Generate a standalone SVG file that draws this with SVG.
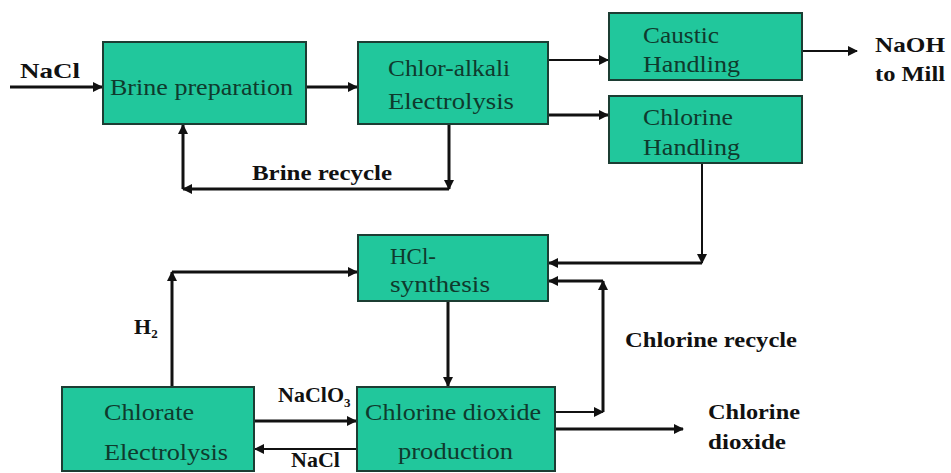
<svg xmlns="http://www.w3.org/2000/svg" width="951" height="473" viewBox="0 0 951 473">
<defs>
<marker id="ah" viewBox="0 0 10 10" refX="9" refY="5" markerWidth="10" markerHeight="10" markerUnits="userSpaceOnUse" orient="auto">
<path d="M0,0 L10,5 L0,10 z" fill="#111"/>
</marker>
<style>
.box{fill:#21c79c;stroke:#1c3d33;stroke-width:2}
.bt{font-family:'Liberation Serif','Times New Roman','DejaVu Serif',serif;font-size:23px;fill:#0f3a2d}
.lb{font-family:'Liberation Serif','Times New Roman','DejaVu Serif',serif;font-size:22px;font-weight:bold;fill:#111}
.c{fill:none;stroke:#111;stroke-width:3}
.t{fill:none;stroke:#111;stroke-width:2}
</style>
</defs>
<rect width="951" height="473" fill="#fff"/>
<g id="connectors">
<line class="c" x1="10" y1="87" x2="102" y2="87" marker-end="url(#ah)"/>
<line class="c" x1="306" y1="87" x2="357" y2="87" marker-end="url(#ah)"/>
<line class="t" x1="548" y1="60" x2="608" y2="60" marker-end="url(#ah)"/>
<line class="c" x1="548" y1="115" x2="608" y2="115" marker-end="url(#ah)"/>
<line class="t" x1="802" y1="51" x2="857" y2="51" marker-end="url(#ah)"/>
<polyline class="c" points="449,124 449,189" marker-end="url(#ah)"/>
<polyline class="c" points="449,189 183,189" marker-end="url(#ah)"/>
<polyline class="c" points="183,189 183,125" marker-end="url(#ah)"/>
<polyline class="t" points="702,163 702,263" marker-end="url(#ah)"/>
<polyline class="c" points="702,263 549,263" marker-end="url(#ah)"/>
<polyline class="c" points="172,387 172,272" marker-end="url(#ah)"/>
<polyline class="c" points="172,272 357,272" marker-end="url(#ah)"/>
<line class="c" x1="448" y1="301" x2="448" y2="386" marker-end="url(#ah)"/>
<line class="c" x1="254" y1="421" x2="356" y2="421" marker-end="url(#ah)"/>
<line class="t" x1="357" y1="449" x2="255" y2="449" marker-end="url(#ah)"/>
<line class="t" x1="555" y1="412" x2="603" y2="412" marker-end="url(#ah)"/>
<polyline class="c" points="603,412 603,281" marker-end="url(#ah)"/>
<polyline class="c" points="603,281 549,281" marker-end="url(#ah)"/>
<line class="c" x1="555" y1="429" x2="683" y2="429" marker-end="url(#ah)"/>
</g>
<g id="brine">
<rect class="box" x="103" y="42" width="203" height="82"/>
<text class="bt" x="110" y="95" textLength="183" lengthAdjust="spacingAndGlyphs">Brine preparation</text>
</g>
<g id="chloralkali">
<rect class="box" x="358" y="42" width="190" height="82"/>
<text class="bt" x="388" y="76" textLength="122" lengthAdjust="spacingAndGlyphs">Chlor-alkali</text>
<text class="bt" x="388" y="109" textLength="126" lengthAdjust="spacingAndGlyphs">Electrolysis</text>
</g>
<g id="caustic">
<rect class="box" x="609" y="13" width="193" height="67"/>
<text class="bt" x="643" y="43" textLength="76" lengthAdjust="spacingAndGlyphs">Caustic</text>
<text class="bt" x="643" y="72" textLength="97" lengthAdjust="spacingAndGlyphs">Handling</text>
</g>
<g id="chlorine">
<rect class="box" x="609" y="96" width="193" height="67"/>
<text class="bt" x="643" y="125" textLength="90" lengthAdjust="spacingAndGlyphs">Chlorine</text>
<text class="bt" x="643" y="155" textLength="97" lengthAdjust="spacingAndGlyphs">Handling</text>
</g>
<g id="hcl">
<rect class="box" x="358" y="235" width="190" height="66"/>
<text class="bt" x="390" y="264">HCl-</text>
<text class="bt" x="390" y="292" textLength="100" lengthAdjust="spacingAndGlyphs">synthesis</text>
</g>
<g id="chlorate">
<rect class="box" x="62" y="387" width="192" height="84"/>
<text class="bt" x="104" y="420" textLength="90" lengthAdjust="spacingAndGlyphs">Chlorate</text>
<text class="bt" x="104" y="460" textLength="124" lengthAdjust="spacingAndGlyphs">Electrolysis</text>
</g>
<g id="clo2">
<rect class="box" x="357" y="387" width="198" height="84"/>
<text class="bt" x="365" y="420" textLength="176" lengthAdjust="spacingAndGlyphs">Chlorine dioxide</text>
<text class="bt" x="398" y="459" textLength="115" lengthAdjust="spacingAndGlyphs">production</text>
</g>
<g id="labels">
<text class="lb" x="20" y="78" textLength="60" lengthAdjust="spacingAndGlyphs">NaCl</text>
<text class="lb" x="875" y="52" textLength="70" lengthAdjust="spacingAndGlyphs">NaOH</text>
<text class="lb" x="875" y="81" textLength="70" lengthAdjust="spacingAndGlyphs">to Mill</text>
<text class="lb" x="252" y="180" textLength="140" lengthAdjust="spacingAndGlyphs">Brine recycle</text>
<text class="lb" x="134" y="334" font-size="20">H<tspan font-size="13" dy="4">2</tspan></text>
<text class="lb" x="625" y="347" textLength="172" lengthAdjust="spacingAndGlyphs">Chlorine recycle</text>
<text class="lb" x="278" y="402" font-size="19">NaClO<tspan font-size="13" dy="5">3</tspan></text>
<text class="lb" x="291" y="467" font-size="17">NaCl</text>
<text class="lb" x="708" y="419" textLength="92" lengthAdjust="spacingAndGlyphs">Chlorine</text>
<text class="lb" x="708" y="449" textLength="78" lengthAdjust="spacingAndGlyphs">dioxide</text>
</g>
</svg>
